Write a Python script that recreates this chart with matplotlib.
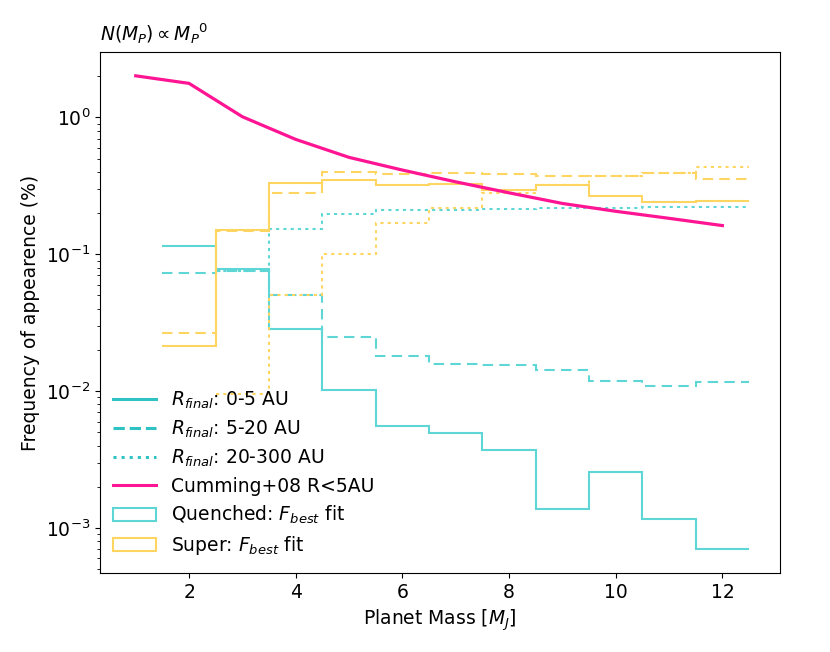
import numpy as np
import matplotlib
matplotlib.use("Agg")
import matplotlib.pyplot as plt
from matplotlib.lines import Line2D
from matplotlib.patches import Patch

# bin edges (planet mass, M_J)
edges_all = [1.5, 2.5, 3.5, 4.5, 5.5, 6.5, 7.5, 8.5, 9.5, 10.5, 11.5, 12.5]
edges_from3 = [2.5, 3.5, 4.5, 5.5, 6.5, 7.5, 8.5, 9.5, 10.5, 11.5, 12.5]

# Quenched (cyan)
q_0_5 = [0.114, 0.0778, 0.0284, 0.0102, 0.00556, 0.00493, 0.0037, 0.00138, 0.00256, 0.00116, 0.000703]
q_5_20 = [0.0735, 0.0755, 0.0505, 0.0248, 0.018, 0.0158, 0.0155, 0.0142, 0.0119, 0.0109, 0.0116]
q_20_300 = [0.075, 0.152, 0.198, 0.209, 0.21, 0.214, 0.216, 0.218, 0.220, 0.220]

# Super (yellow)
s_0_5 = [0.0214, 0.1497, 0.334, 0.349, 0.322, 0.328, 0.294, 0.319, 0.268, 0.241, 0.246]
s_5_20 = [0.0267, 0.147, 0.279, 0.397, 0.384, 0.395, 0.386, 0.373, 0.373, 0.392, 0.353]
s_20_300 = [0.0095, 0.0505, 0.100, 0.170, 0.218, 0.280, 0.323, 0.375, 0.395, 0.437]

# Cumming+08
cum_x = [1, 2, 3, 4, 5, 6, 7, 8, 9, 10, 11, 12]
cum_y = [2.01, 1.77, 1.01, 0.69, 0.510, 0.412, 0.338, 0.281, 0.235, 0.206, 0.183, 0.162]

legend_labels = [r"$R_{final}$: 0-5 AU", r"$R_{final}$: 5-20 AU", r"$R_{final}$: 20-300 AU",
                 "Cumming+08 R<5AU", r"Quenched: $F_{best}$ fit", r"Super: $F_{best}$ fit"]

cyan_h = "#5fd6d6"
cyan_l = "#2ec2c2"
yel = "#ffd562"
mag = "#ff1493"

fig = plt.figure(figsize=(8.3, 6.52), dpi=100)
ax = fig.add_axes([100/830, 1-573.3/652, 680/830, (573.3-52.3)/652])

lw = 1.5
ax.stairs(q_0_5, edges_all, baseline=None, color=cyan_h, lw=lw, ls='-')
ax.stairs(q_5_20, edges_all, baseline=None, color=cyan_h, lw=lw, ls=(0, (5, 3)))
ax.stairs(q_20_300, edges_from3, baseline=None, color=cyan_h, lw=lw, ls=(0, (1.5, 2)))
ax.stairs(s_0_5, edges_all, baseline=None, color=yel, lw=lw, ls='-')
ax.stairs(s_5_20, edges_all, baseline=None, color=yel, lw=lw, ls=(0, (5, 3)))
ax.stairs(s_20_300, edges_from3, baseline=None, color=yel, lw=lw, ls=(0, (1.5, 2)))
ax.plot(cum_x, cum_y, color=mag, lw=2.3)

ax.set_yscale('log')
ax.set_xlim(0.33, 13.08)
ax.set_ylim(10**-3.33, 10**0.475)
ax.set_xticks([2, 4, 6, 8, 10, 12])
ax.tick_params(labelsize=13.5)
ax.set_xlabel(r"Planet Mass [$M_J$]", fontsize=13.5)
ax.set_ylabel("Frequency of appearence (%)", fontsize=13.5)
ax.set_title(r"$N(M_P) \propto {M_P}^0$", loc='left', fontsize=13.5, pad=8)

handles = [Line2D([], [], color=cyan_l, lw=2.2, ls='-'),
           Line2D([], [], color=cyan_l, lw=2.2, ls='--'),
           Line2D([], [], color=cyan_l, lw=2.2, ls=':'),
           Line2D([], [], color=mag, lw=2.2),
           Patch(facecolor='white', edgecolor=cyan_h, lw=lw),
           Patch(facecolor='white', edgecolor=yel, lw=lw)]
ax.legend(handles, legend_labels, loc='lower left', frameon=False, fontsize=13.5,
          handlelength=2.3, labelspacing=0.42, borderaxespad=0.3,
          bbox_to_anchor=(0, 0.006))

fig.savefig("out.png", dpi=100)
